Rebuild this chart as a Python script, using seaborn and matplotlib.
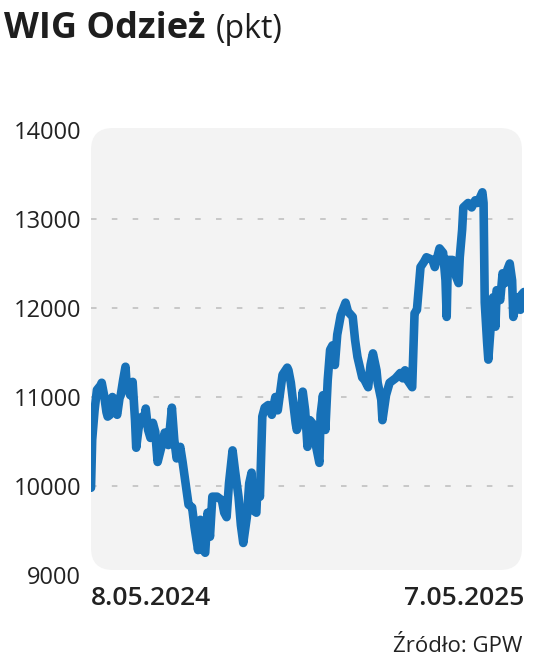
import pandas as pd
import numpy as np
import matplotlib
matplotlib.use('Agg')
import matplotlib.pyplot as plt
from matplotlib.patches import FancyBboxPatch
import seaborn as sns

# WIG Odziez, 8.05.2024 - 7.05.2025
start = '2024-05-08'
day = [0, 1, 3, 5, 8, 9, 11, 13, 14, 16, 18, 20, 22, 24, 25, 27, 29, 30, 33, 35,
       37, 38, 40, 43, 45, 46, 48, 50, 52, 54, 56, 59, 62, 65, 68, 70, 72, 75, 77, 80,
       82, 85, 87, 90, 92, 93, 96, 98, 100, 102, 106, 110, 112, 114, 116, 119, 121, 124, 126, 128,
       131, 133, 135, 136, 139, 140, 142, 144, 146, 149, 152, 155, 157, 161, 165, 166, 168, 172, 173, 176,
       178, 180, 182, 184, 187, 189, 192, 193, 195, 197, 199, 201, 203, 205, 207, 210, 214, 216, 220, 222,
       224, 228, 230, 233, 235, 237, 240, 241, 244, 245, 248, 251, 256, 260, 262, 264, 266, 270, 272, 274,
       277, 280, 282, 287, 289, 293, 296, 298, 299, 300, 304, 307, 309, 310, 312, 313, 317, 320, 323, 325,
       329, 330, 331, 333, 334, 336, 338, 340, 341, 344, 346, 348, 350, 352, 354, 355, 358, 361, 362, 364]
pkt = [9980, 10520, 10850, 11080, 11130, 11160, 11020, 10830, 10780, 10800, 11000, 10880, 10800, 10990, 11020, 11190, 11340, 11130, 11020, 11170,
       10740, 10430, 10650, 10780, 10720, 10870, 10630, 10540, 10710, 10610, 10270, 10430, 10600, 10460, 10880, 10520, 10310, 10440, 10270, 9980,
       9790, 9760, 9540, 9280, 9620, 9310, 9250, 9700, 9430, 9880, 9880, 9840, 9700, 9650, 10030, 10400, 10180, 9880, 9560, 9360,
       9650, 10030, 10150, 9730, 9700, 10030, 9880, 10780, 10880, 10910, 10800, 11000, 10850, 11250, 11330, 11300, 11160, 10710, 10630, 10740,
       11060, 10850, 10440, 10740, 10690, 10460, 10260, 10800, 11020, 10630, 11190, 11530, 11580, 11360, 11700, 11920, 12060, 11960, 11900, 11640,
       11450, 11220, 11190, 11110, 11360, 11490, 11300, 11160, 10970, 10740, 11020, 11160, 11210, 11270, 11210, 11300, 11190, 11110, 11940, 11980,
       12460, 12520, 12570, 12540, 12460, 12670, 12620, 12310, 11900, 12540, 12540, 12350, 12280, 12570, 12880, 13130, 13180, 13130, 13210, 13180,
       13300, 13180, 12060, 11610, 11420, 11790, 12120, 11790, 12200, 12090, 12390, 12280, 12430, 12500, 12310, 11900, 12120, 11980, 12150, 12180]
y_ticks = [9000, 10000, 11000, 12000, 13000, 14000]
grid_levels = [10000, 11000, 12000, 13000]
x_labels = ['8.05.2024', '7.05.2025']
end = '2025-05-07'

df = pd.DataFrame({'data': pd.Timestamp(start) + pd.to_timedelta(day, unit='D'), 'pkt': pkt})

sns.set_style('white')
plt.rcParams['font.family'] = ['Open Sans', 'DejaVu Sans']
plt.rcParams['lines.scale_dashes'] = False

W, H, DPI = 536, 659, 100
fig = plt.figure(figsize=(W / DPI, H / DPI), dpi=DPI)
ax = fig.add_axes([91 / W, 84 / H, 433 / W, 445 / H])
ax.patch.set_alpha(0)

# rounded grey panel behind the plot
panel = FancyBboxPatch((0.91, 0.89), 4.31, 4.42, boxstyle='round,pad=0,rounding_size=0.22',
                       transform=fig.dpi_scale_trans, facecolor='#f3f3f3', edgecolor='none', zorder=0)
fig.add_artist(panel)
ax.set_zorder(1)

for g in grid_levels:
    ax.axhline(g, xmin=0, xmax=0.995, color='#c4c4c4', lw=1.3, ls=(0, (4, 11)), zorder=1)

sns.lineplot(data=df, x='data', y='pkt', ax=ax, color='#1771b8', lw=6.2,
             solid_capstyle='round', solid_joinstyle='round', zorder=3)

ax.set_xlim(pd.Timestamp(start), pd.Timestamp(end))
ax.set_ylim(y_ticks[0], y_ticks[-1])
ax.set_yticks(y_ticks)
ax.set_yticklabels([str(v) for v in y_ticks])
ax.set_xticks([pd.Timestamp(start), pd.Timestamp(end)])
ax.set_xticklabels(x_labels)
ax.get_xticklabels()[0].set_ha('left')
ax.get_xticklabels()[1].set_ha('right')
ax.tick_params(axis='y', length=0, pad=7, labelsize=17, labelcolor='#222222')
ax.tick_params(axis='x', length=0, pad=8, labelsize=19, labelcolor='#222222')
for lab in ax.get_xticklabels():
    lab.set_fontweight('semibold')
ax.set_xlabel('')
ax.set_ylabel('')
sns.despine(ax=ax, left=True, bottom=True)

t1 = fig.text(4 / W, 1 - 38 / H, 'WIG Odzież', fontsize=26, fontweight='bold', color='#1e1e1e')
fig.canvas.draw()
bb = t1.get_window_extent()
fig.text((bb.x1 + 10) / W, 1 - 38 / H, '(pkt)', fontsize=23, color='#1e1e1e')
fig.text(522 / W, 1 - 652 / H, 'Źródło: GPW', fontsize=16, color='#222222', ha='right')

fig.savefig('out.png', dpi=DPI)
